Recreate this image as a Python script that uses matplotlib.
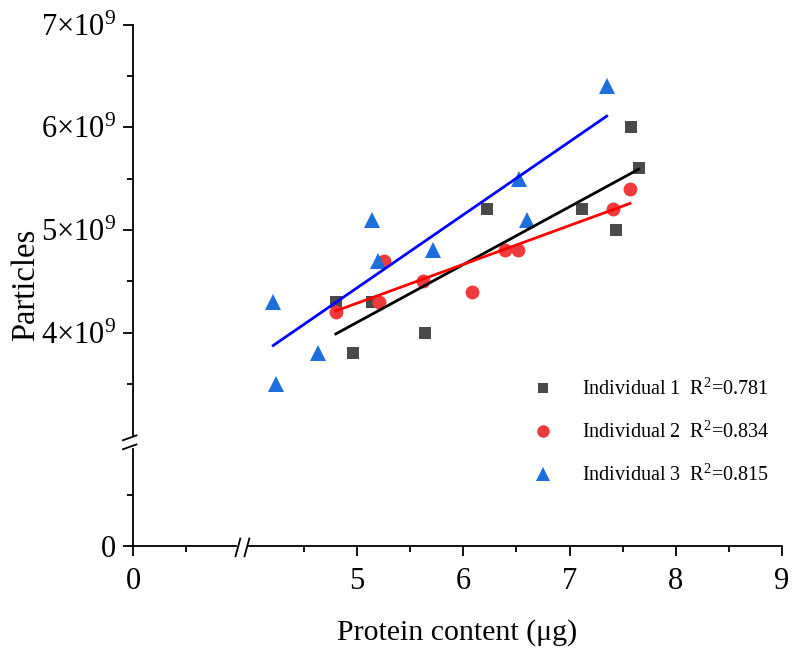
import numpy as np
import matplotlib
matplotlib.use("Agg")
import matplotlib.pyplot as plt
from matplotlib.lines import Line2D
from matplotlib.ticker import FixedLocator, FixedFormatter

plt.rcParams['font.family'] = ['Liberation Serif', 'DejaVu Serif']
plt.rcParams['mathtext.fontset'] = 'custom'
plt.rcParams['mathtext.rm'] = 'Liberation Serif'
plt.rcParams['mathtext.it'] = 'Liberation Serif:italic'
plt.rcParams['mathtext.fallback'] = 'stix'

# protein content (ug) and particle counts (x1e9) for each individual
x_ind1 = [4.80, 4.96, 5.14, 5.64, 6.22, 7.12, 7.44, 7.58, 7.65]
y_ind1 = [4.3, 3.8, 4.3, 4.0, 5.2, 5.2, 5.0, 6.0, 5.6]
x_ind2 = [4.80, 5.21, 5.25, 5.62, 6.08, 6.39, 6.51, 7.41, 7.57]
y_ind2 = [4.2, 4.3, 4.7, 4.5, 4.4, 4.8, 4.8, 5.2, 5.4]
x_ind3 = [4.21, 4.24, 4.63, 5.14, 5.20, 5.71, 6.52, 6.60, 7.35]
y_ind3 = [4.3, 3.5, 3.8, 5.1, 4.7, 4.8, 5.5, 5.1, 6.4]
r2_values = [0.781, 0.834, 0.815]

# broken axis ranges: [0, XA] + [XB, 9] and [0, YA] + [YB, 7]
XA, XB = 1.03, 3.92
YA, YB = 1.01, 2.93


def make_break(a, b):
    def fwd(v):
        v = np.asarray(v, dtype=float)
        return np.where(v <= a, v, np.where(v >= b, v - (b - a), a))

    def inv(u):
        u = np.asarray(u, dtype=float)
        return np.where(u <= a, u, u + (b - a))
    return fwd, inv


fig = plt.figure(figsize=(7.92, 6.5), dpi=100)
ax = fig.add_axes([133 / 792, 104 / 650, 649 / 792, 521.3 / 650])
ax.set_xscale('function', functions=make_break(XA, XB))
ax.set_yscale('function', functions=make_break(YA, YB))
ax.set_xlim(0, 9)
ax.set_ylim(0, 7)

series = [
    (x_ind1, y_ind1, 's', '#4a4a4a', 8.5, 'black'),
    (x_ind2, y_ind2, 'o', '#ef3b3b', 10, '#ff0000'),
    (x_ind3, y_ind3, '^', '#1c6fdc', 11, '#0000ff'),
]
handles = []
labels = []
for i, (xs, ys, mk, col, ms, lcol) in enumerate(series):
    xs = np.array(xs)
    ys = np.array(ys)
    ax.plot(xs, ys, linestyle='none', marker=mk, color=col, markersize=ms,
            markeredgewidth=0, zorder=3)
    k, c = np.polyfit(xs, ys, 1)
    xf = np.array([xs.min(), xs.max()])
    ax.plot(xf, k * xf + c, color=lcol, lw=2, zorder=4)
    handles.append(Line2D([], [], linestyle='none', marker=mk, color=col,
                          markersize=ms * 0.9, markeredgewidth=0))
    labels.append('Individual %d  R$^{2}$=%.3f' % (i + 1, r2_values[i]))

ax.legend(handles, labels, loc='upper left', bbox_to_anchor=(520 / 792, 1 - 371 / 650),
          bbox_transform=fig.transFigure, frameon=False, fontsize=14.5,
          handletextpad=1.2, labelspacing=1.08, borderaxespad=0, borderpad=0.4,
          handlelength=1.5)

# axes styling
for side in ['top', 'right']:
    ax.spines[side].set_visible(False)
for side in ['left', 'bottom']:
    ax.spines[side].set_linewidth(1.3)

ax.xaxis.set_major_locator(FixedLocator([0, 5, 6, 7, 8, 9]))
ax.xaxis.set_major_formatter(FixedFormatter(['0', '5', '6', '7', '8', '9']))
ax.xaxis.set_minor_locator(FixedLocator([0.5, 4.5, 5.5, 6.5, 7.5, 8.5]))
ax.yaxis.set_major_locator(FixedLocator([0, 4, 5, 6, 7]))
ax.yaxis.set_major_formatter(FixedFormatter(
    ['0'] + ['%d×10$^{9}$' % v for v in [4, 5, 6, 7]]))
ax.yaxis.set_minor_locator(FixedLocator([0.5, 3.5, 4.5, 5.5, 6.5]))
ax.tick_params(which='major', direction='out', length=7, width=1.3,
               labelsize=22)
ax.tick_params(axis='x', which='major', pad=8)
ax.tick_params(axis='y', which='major', pad=5)
ax.tick_params(which='minor', direction='out', length=4, width=1.3)

ax.set_xlabel('Protein content (μg)', fontsize=21.5, labelpad=17)
ax.set_ylabel('Particles', fontsize=23.5, labelpad=0)

# break marks on both axes
W, H = 649.0, 521.3
fwd_x, _ = make_break(XA, XB)
fwd_y, _ = make_break(YA, YB)
bx = float(fwd_x(XA) / fwd_x(9))
by = float(fwd_y(YA) / fwd_y(7))

for off in (-4.5, 4.5):
    cx = bx + off / W
    ax.plot([cx - 2.4 / W, cx + 2.4 / W], [-10.3 / H, 7.4 / H], color='black',
            lw=1.3, transform=ax.transAxes, clip_on=False, zorder=6)
    cy = by + off / H
    ax.plot([-10 / W, 3.4 / W], [cy - 2.4 / H, cy + 2.4 / H], color='black',
            lw=1.3, transform=ax.transAxes, clip_on=False, zorder=6)
ax.plot([bx - 3.5 / W, bx + 3.5 / W], [0, 0], color='white', lw=3,
        transform=ax.transAxes, clip_on=False, zorder=5)
ax.plot([0, 0], [by - 3.5 / H, by + 3.5 / H], color='white', lw=3,
        transform=ax.transAxes, clip_on=False, zorder=5)

fig.savefig('out.png', dpi=100)
